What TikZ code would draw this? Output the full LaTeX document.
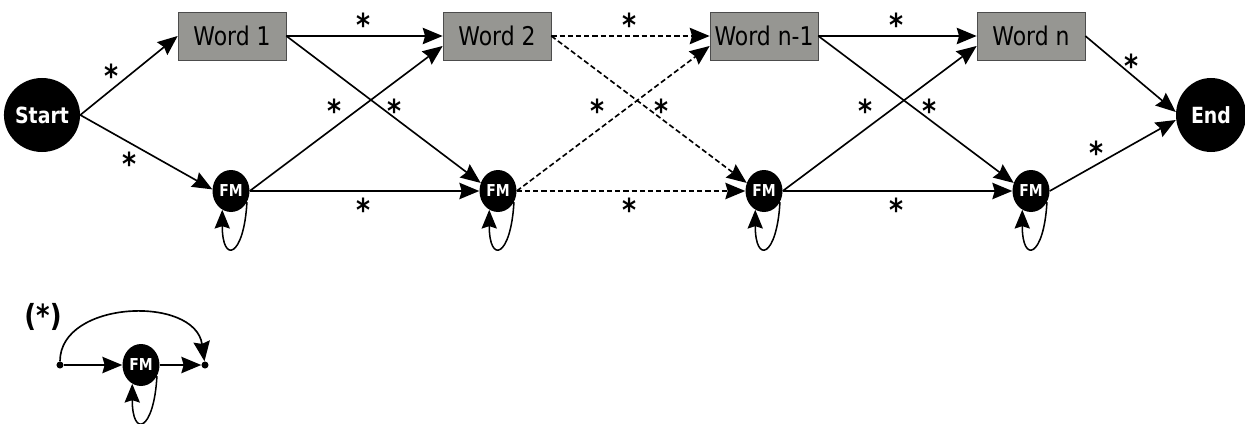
\documentclass[tikz,border=0pt]{standalone}
\usepackage{fontspec}
\usetikzlibrary{arrows.meta,shapes.geometric,calc}
\newfontfamily\dv[FakeStretch=0.85]{DejaVu Sans}
\begin{document}
\begin{tikzpicture}[x=0.03cm,y=-0.03cm,
 word/.style={draw=black!70,line width=0.6pt,fill={rgb,255:red,150;green,150;blue,146},minimum width=3.24cm,minimum height=1.44cm,inner sep=0pt,font=\dv\fontsize{22}{22}\selectfont},
 term/.style={ellipse,fill=black,text=white,minimum width=2.1cm,minimum height=2.22cm,inner sep=0pt,font=\dv\bfseries\fontsize{19}{19}\selectfont},
 fm/.style={ellipse,fill=black,text=white,minimum width=1.11cm,minimum height=1.26cm,inner sep=0pt,font=\dv\bfseries\fontsize{14}{14}\selectfont},
 star/.style={font=\dv\bfseries\fontsize{27}{27}\selectfont,inner sep=0pt},
 arr/.style={line width=1.4pt,-{Stealth[length=17pt,width=14pt,inset=2pt]}},
 dsh/.style={arr,dash pattern=on 4.5pt off 2.5pt},
 loopy/.style={line width=1.3pt,-{Stealth[length=16pt,width=13pt,inset=2pt]}},
 dot/.style={circle,fill=black,inner sep=0pt,minimum size=6pt}]
\useasboundingbox (0,0) rectangle (1245,423);
% nodes
\node[term] (start) at (42,115) {Start};
\node[term] (end) at (1211,115) {End};
\node[word] (w1) at (232,36) {Word 1};
\node[word] (w2) at (497,36) {Word 2};
\node[word] (w3) at (764,36) {Word n-1};
\node[word] (w4) at (1031,36) {Word n};
\node[fm] (f1) at (231,191) {FM};
\node[fm] (f2) at (498,191) {FM};
\node[fm] (f3) at (764,191) {FM};
\node[fm] (f4) at (1031,191) {FM};
% edges
\draw[arr] (start.east) -- (w1.west);
\draw[arr] (start.east) -- (f1.175);
\draw[arr] (w1.east) -- (w2.west);
\draw[arr] (w1.east) -- (f2.155);
\draw[arr] (f1.east) -- ($(w2.west)+(0,10)$);
\draw[arr] (f1.east) -- (f2.west);
\draw[dsh] (w2.east) -- (w3.west);
\draw[dsh] (w2.east) -- (f3.155);
\draw[dsh] (f2.east) -- ($(w3.west)+(0,10)$);
\draw[dsh] (f2.east) -- (f3.west);
\draw[arr] (w3.east) -- (w4.west);
\draw[arr] (w3.east) -- (f4.155);
\draw[arr] (f3.east) -- ($(w4.west)+(0,10)$);
\draw[arr] (f3.east) -- (f4.west);
\draw[arr] (w4.east) -- ($(end.west)+(0,-3)$);
\draw[arr] (f4.east) -- ($(end.west)+(0,5)$);
% self loops
\foreach \f in {f1,f2,f3,f4}{
  \draw[loopy] (\f.-35) .. controls +(-3,55) and +(0,55) .. (\f.-115);
}
% stars
\node[star] (s1) at (112,76) {*};
\node[star] (s2) at (130,164) {*};
\node[star] (s3) at (364,25) {*};
\node[star] (s4) at (364,210) {*};
\node[star] (s5) at (335,111) {*};
\node[star] (s6) at (395,111) {*};
\node[star] (s7) at (630,25) {*};
\node[star] (s8) at (630,210) {*};
\node[star] (s9) at (598,111) {*};
\node[star] (s10) at (662,111) {*};
\node[star] (s11) at (897,25) {*};
\node[star] (s12) at (897,210) {*};
\node[star] (s13) at (866,111) {*};
\node[star] (s14) at (930,111) {*};
\node[star] (s15) at (1132,66) {*};
\node[star] (s16) at (1097,153) {*};
% legend
\node[font=\dv\bfseries\fontsize{26}{26}\selectfont,inner sep=0pt] (leg) at (43,317) {(*)};
\node[dot] (a) at (60,365) {};
\node[dot] (b) at (205,365) {};
\node[fm] (lf) at (141,365) {FM};
\draw[arr] (a) -- (lf);
\draw[arr] (lf) -- (b);
\draw[arr] (a) .. controls (60,300) and (195,295) .. (b);
\draw[loopy] (lf.-35) .. controls +(-3,55) and +(0,55) .. (lf.-115);
\end{tikzpicture}
\end{document}
